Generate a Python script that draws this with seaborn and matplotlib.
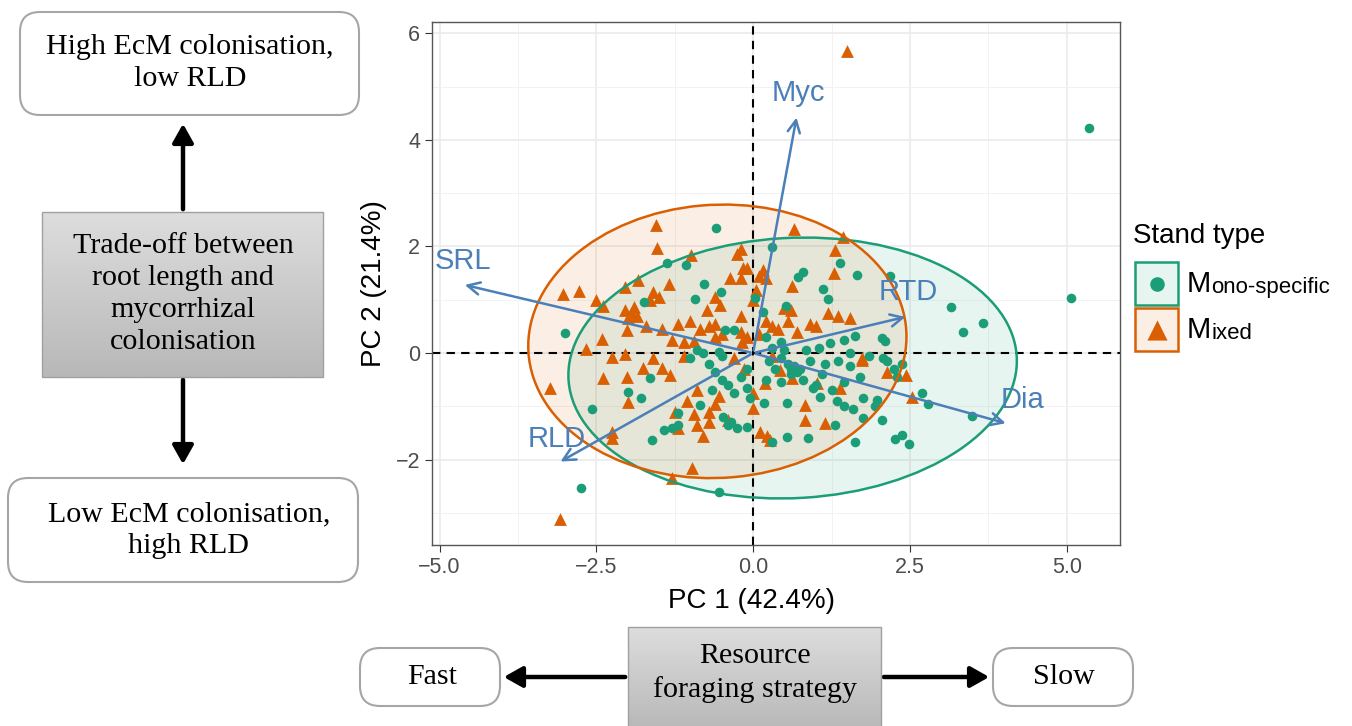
import numpy as np
import pandas as pd
import matplotlib.pyplot as plt
import seaborn as sns
from matplotlib.patches import Ellipse, FancyBboxPatch, Rectangle, FancyArrowPatch
from matplotlib.colors import LinearSegmentedColormap

# PCA scores
mono_pc1 = [5.35, 5.07, 3.16, 3.67, 3.35, 2.18, 1.66, 1.39, 0.72, 0.80, 1.12, 1.20, 0.30, 0.03, 0.53, 0.16,
            -0.59, -1.37, -1.07, -0.78, -0.93, -0.51, -1.74, -3.00, -0.45, -0.30,
            1.63, 1.45, 1.23, 2.06, 2.10,
            2.70, 2.79, 3.49, 2.06, 1.63, 2.26, 2.38, 2.49, 1.75, 1.31, 0.88, 0.54, 0.30, 0.18, 0.54, 1.07,
            1.34, 1.45, 1.60, 1.75, 1.95, 1.97, 2.07, 2.14, 2.25, 2.38, 2.30,
            -1.99, -1.79, -2.57, -1.64, -1.61, -1.42, -1.30, -1.20, -1.20, -0.85, -2.74, -0.54, -0.48, -0.35,
            -0.25, -0.40,
            -0.70, -0.60, -0.50, -0.40, -0.30, -0.20, -0.10, -0.05, -0.65, -0.90, -0.80, -0.55, -0.50, -1.00,
            0.45, 0.55, 0.60, 0.65, 0.70, 0.75, 0.60, 0.80, 0.90, 1.00, 1.10, 1.15, 0.95, 0.45, 0.35, 0.25,
            0.20, 0.30, 0.50, 0.85, 1.05, 1.35, 1.55, 1.70, 1.45, 1.25, -0.10, -0.10, 0.20, 0.45, 1.85, 1.55]
mono_pc2 = [4.22, 1.03, 0.86, 0.56, 0.39, 1.44, 1.46, 1.69, 1.43, 1.52, 1.20, 1.01, 1.99, 1.03, 0.88, 0.77,
            2.35, 1.69, 1.65, 1.29, 1.01, 1.15, 0.96, 0.38, 0.43, 0.43,
            0.32, 0.24, 0.19, 0.28, 0.22,
            -0.75, -0.96, -1.18, -1.26, -1.67, -1.62, -1.54, -1.71, -1.22, -1.35, -1.59, -1.58, -1.67, -0.94,
            -0.94, -0.83,
            -0.90, -1.00, -1.05, -0.85, -1.00, -0.88, -0.10, -0.15, -0.30, -0.20, -0.45,
            -0.73, -0.84, -1.05, -0.47, -1.63, -1.45, -1.40, -1.35, -1.13, -0.98, -2.53, -2.61, -1.20, -1.30,
            -1.40, -1.35,
            -0.20, -0.35, -0.50, -0.60, -0.75, -0.45, -0.30, -0.85, -0.70, 0.05, 0.00, 0.02, -0.05, -0.10,
            -0.10, -0.20, -0.30, -0.25, -0.35, -0.30, -0.40, -0.50, -0.15, -0.60, -0.40, -0.20, -0.66, -0.55,
            -0.30, -0.15,
            -0.50, 0.10, 0.05, 0.05, 0.10, -0.15, -0.25, -0.45, -0.55, -0.70, -0.65, -1.38, 0.30, 0.20, -0.05,
            0.00]

mixed_pc1 = [1.50, -1.55, -1.53, -0.99, -3.03, -2.78, -2.50, -2.39, -2.04, -1.83, -1.34, -1.60, -1.50, -1.65,
             -2.05, -1.95, -1.90, -1.85, -2.00, -2.41, -2.66, -2.25, -2.04, -2.01, -1.70, -1.45, -1.20, -1.00,
             -0.85, -0.70, -0.60, -1.30, -1.10, -0.95, -0.60, -0.50, -0.73, -0.60, -0.53, -0.37, -0.25, -0.20,
             -0.16, -0.20, -0.20, -0.18,
             0.65, 1.44, 1.31, 1.29, 0.62, -0.10, 0.10, 0.15, 0.20, -0.20, 0.50, 0.60, 0.55, 0.20, 0.30, 1.20,
             1.35, 1.55, 0.90, 1.00, 0.00, 0.05, -0.10, 0.10, 0.40, 0.70, 1.74,
             -3.24, -2.39, -2.01, -1.75, -1.45, -1.32, -1.99, -2.25, -2.25, -1.25, -1.05, -1.20, -0.90, -0.95,
             -0.90, -0.80, -0.70, -0.70, -0.60, -0.55, -0.40, -0.97, -1.29, -3.08, 0.00, 0.00,
             2.44, 2.54, 1.39, 1.02, 0.83, 0.83, 1.15, 0.62, 0.43, 0.19, 0.11, 0.22, 0.27, 1.74, 2.14, -0.30,
             -0.15, 0.30, -1.60, -1.10]
mixed_pc2 = [5.67, 2.40, 1.97, 1.84, 1.11, 1.16, 0.99, 0.88, 1.24, 1.37, 1.29, 1.15, 1.05, 1.00,
             0.80, 0.75, 0.86, 0.70, 0.65, 0.26, 0.08, -0.08, -0.02, 0.43, 0.50, 0.45, 0.55, 0.60,
             0.45, 0.50, 0.55, 0.25, 0.20, 0.22, 0.30, 0.35, 0.80, 1.05, 0.90, 1.40, 1.85, 1.40,
             1.60, 0.70, 0.40, 0.20,
             2.33, 2.18, 1.93, 1.50, 1.26, 1.60, 1.45, 1.55, 1.40, 1.95, 0.85, 0.80, 0.60, 0.60, 0.50, 0.75,
             0.70, 0.65, 0.55, 0.50, 1.00, 1.18, 0.30, 0.35, 0.45, 0.40, -0.13,
             -0.66, -0.47, -0.45, -0.28, -0.28, -0.41, -0.92, -1.48, -1.60, -1.10, -0.90, -1.40, -0.70, -1.15,
             -1.35, -1.55, -1.10, -1.30, -0.95, -0.80, -1.25, -2.16, -2.35, -3.11, -0.75, -1.03,
             -0.41, -0.83, -0.66, -0.56, -0.98, -1.26, -1.31, -0.47, -0.32, -0.56, -1.48, -1.55, -1.63, -0.09,
             -0.36, -0.10,
             -0.30, -0.05, -0.10, -0.05]

# trait loadings (arrow tips) and label positions
traits = ["SRL", "Myc", "RTD", "Dia", "RLD"]
load_pc1 = [-4.64, 0.70, 2.47, 4.07, -3.11]
load_pc2 = [1.29, 4.47, 0.69, -1.33, -2.06]
label_pc1 = [-4.62, 0.72, 2.47, 4.29, -3.13]
label_pc2 = [1.72, 4.88, 1.14, -0.88, -1.62]

# 95% ellipses (centre, semi axes, angle in degrees)
ell_center = {"Mono-specific": (0.63, -0.28), "Mixed": (-0.57, 0.22)}
ell_axes = {"Mono-specific": (3.58, 2.44), "Mixed": (3.02, 2.56)}
ell_angle = {"Mono-specific": 4, "Mixed": 6}

stand_types = ["Mono-specific", "Mixed"]
colors = {"Mono-specific": "#1b9e77", "Mixed": "#d95f02"}
arrow_col = "#4a7fb8"

df = pd.DataFrame({
    "PC1": mono_pc1 + mixed_pc1,
    "PC2": mono_pc2 + mixed_pc2,
    "Stand": ["Mono-specific"] * len(mono_pc1) + ["Mixed"] * len(mixed_pc1),
})

W, H = 1352, 726
fig = plt.figure(figsize=(W / 100, H / 100), dpi=100)
sans = "Liberation Sans"
serif = "Liberation Serif"

ax = fig.add_axes([432 / W, 1 - 545 / H, 688 / W, 523 / H])
ax.set_facecolor("white")

# ellipses
for st in stand_types:
    a, b = ell_axes[st]
    ax.add_patch(Ellipse(ell_center[st], 2 * a, 2 * b, angle=ell_angle[st],
                         facecolor=colors[st], alpha=0.1, edgecolor="none", zorder=1))
    ax.add_patch(Ellipse(ell_center[st], 2 * a, 2 * b, angle=ell_angle[st],
                         facecolor="none", edgecolor=colors[st], lw=1.8, zorder=4))

sns.scatterplot(data=df[df["Stand"] == "Mixed"], x="PC1", y="PC2", marker="^", s=85,
                color=colors["Mixed"], linewidth=0, ax=ax, legend=False, zorder=3)
sns.scatterplot(data=df[df["Stand"] == "Mono-specific"], x="PC1", y="PC2", marker="o", s=48,
                color=colors["Mono-specific"], linewidth=0, ax=ax, legend=False, zorder=3)

ax.axhline(0, color="black", ls=(0, (4, 3)), lw=1.5, zorder=2)
ax.axvline(0, color="black", ls=(0, (4, 3)), lw=1.5, zorder=2)

for t, x1, y1, lx, ly in zip(traits, load_pc1, load_pc2, label_pc1, label_pc2):
    ax.annotate("", xy=(x1, y1), xytext=(0, 0),
                arrowprops=dict(arrowstyle="->", color=arrow_col, lw=1.8, mutation_scale=22),
                zorder=5)
    ax.text(lx, ly, t, color=arrow_col, fontsize=21, family=sans, ha="center", va="center", zorder=6)

ax.set_xlim(-5.12, 5.85)
ax.set_ylim(-3.60, 6.21)
ax.set_xticks([-5, -2.5, 0, 2.5, 5])
ax.set_xticklabels(["\u22125.0", "\u22122.5", "0.0", "2.5", "5.0"])
ax.set_yticks([-2, 0, 2, 4, 6])
ax.set_yticklabels(["\u22122", "0", "2", "4", "6"])
ax.set_xticks([-3.75, -1.25, 1.25, 3.75], minor=True)
ax.set_yticks([-3, -1, 1, 3, 5], minor=True)
ax.grid(which="major", color="#ebebeb", lw=1.2, zorder=0)
ax.grid(which="minor", color="#f2f2f2", lw=0.7, zorder=0)
ax.set_axisbelow(True)
ax.tick_params(which="major", length=5, color="#333333", labelcolor="#4d4d4d", labelsize=15.5)
ax.tick_params(which="minor", length=0)
for lab in ax.get_xticklabels() + ax.get_yticklabels():
    lab.set_family(sans)
for sp in ax.spines.values():
    sp.set_color("#555555")
    sp.set_linewidth(1.0)
ax.set_xlabel("PC 1 (42.4%)", fontsize=20, family=sans)
ax.set_ylabel("PC 2 (21.4%)", fontsize=20, family=sans)
ax.xaxis.set_label_coords((752 - 432) / 688, -0.082)
ax.yaxis.set_label_coords(-0.066, 0.5)

# manual legend
def fx(x):
    return x / W


def fy(y):
    return 1 - y / H


fig.text(fx(1133), fy(236), "Stand type", fontsize=20, family=sans, va="center", ha="left")
key_rows = [("Mono-specific", 262, "o", "ono-specific"), ("Mixed", 308, "^", "ixed")]
for st, top, mk, rest in key_rows:
    fig.patches.append(Rectangle((fx(1135), fy(top + 43)), 43 / W, 43 / H, transform=fig.transFigure,
                                 facecolor=colors[st], alpha=0.1, edgecolor="none"))
    fig.patches.append(Rectangle((fx(1135), fy(top + 43)), 43 / W, 43 / H, transform=fig.transFigure,
                                 facecolor="none", edgecolor=colors[st], lw=1.8))
    kax = fig.add_axes([fx(1135), fy(top + 43), 43 / W, 43 / H])
    kax.set_axis_off()
    kax.set_xlim(0, 1)
    kax.set_ylim(0, 1)
    kax.scatter([0.5], [0.48], marker=mk, s=110 if mk == "o" else 210, color=colors[st], linewidths=0)
    m = fig.text(fx(1187), fy(top + 30), "M", fontsize=21, family=sans, va="baseline", ha="left")
    kax.annotate(rest, xy=(1, 0), xycoords=m, fontsize=16, family=sans, va="bottom", ha="left",
                 annotation_clip=False)

# concept boxes
inch = fig.dpi_scale_trans


def rbox(x0, y0, x1, y1):
    p = FancyBboxPatch((x0 / 100, (H - y1) / 100), (x1 - x0) / 100, (y1 - y0) / 100,
                       boxstyle="round,pad=0,rounding_size=0.2", transform=inch,
                       facecolor="white", edgecolor="#a6a6a6", lw=1.5)
    fig.patches.append(p)


gcmap = LinearSegmentedColormap.from_list("grey_grad", ["#dddddd", "#b8b8b8"])


def gbox(x0, y0, x1, y1):
    gax = fig.add_axes([fx(x0), fy(y1), (x1 - x0) / W, (y1 - y0) / H])
    gax.imshow(np.linspace(0, 1, 100)[:, None], cmap=gcmap, aspect="auto", extent=[0, 1, 0, 1])
    gax.set_axis_off()
    fig.patches.append(Rectangle((fx(x0), fy(y1)), (x1 - x0) / W, (y1 - y0) / H,
                                 transform=fig.transFigure, facecolor="none",
                                 edgecolor="#a0a0a0", lw=1.0, zorder=10))


def arrow(x0, y0, x1, y1):
    fig.patches.append(FancyArrowPatch((fx(x0), fy(y0)), (fx(x1), fy(y1)), transform=fig.transFigure,
                                       arrowstyle="-|>,head_length=0.8,head_width=0.45",
                                       mutation_scale=14, lw=3.2, color="black"))


box_fs = 21.6
box_ls = 1.3

rbox(20, 12, 359, 115)
fig.text(fx(190), fy(63), "High EcM colonisation,\nlow RLD", fontsize=box_fs, family=serif,
         ha="center", va="center", linespacing=box_ls)
gbox(42, 212, 323, 377)
fig.text(fx(183), fy(294), "Trade-off between\nroot length and\nmycorrhizal\ncolonisation",
         fontsize=box_fs, family=serif, ha="center", va="center", zorder=11, linespacing=box_ls)
rbox(8, 478, 358, 582)
fig.text(fx(189), fy(530), "Low EcM colonisation,\nhigh RLD", fontsize=box_fs, family=serif,
         ha="center", va="center", linespacing=box_ls)
arrow(183, 212, 183, 121)
arrow(183, 377, 183, 467)

rbox(360, 648, 500, 706)
fig.text(fx(432), fy(677), "Fast", fontsize=box_fs, family=serif, ha="center", va="center")
gbox(628, 627, 881, 730)
fig.text(fx(755), fy(673), "Resource\nforaging strategy", fontsize=box_fs, family=serif,
         ha="center", va="center", zorder=11, linespacing=box_ls)
rbox(993, 648, 1133, 706)
fig.text(fx(1064), fy(677), "Slow", fontsize=box_fs, family=serif, ha="center", va="center")
arrow(628, 677, 501, 677)
arrow(881, 677, 992, 677)

fig.savefig("out.png", dpi=100, facecolor="white")
